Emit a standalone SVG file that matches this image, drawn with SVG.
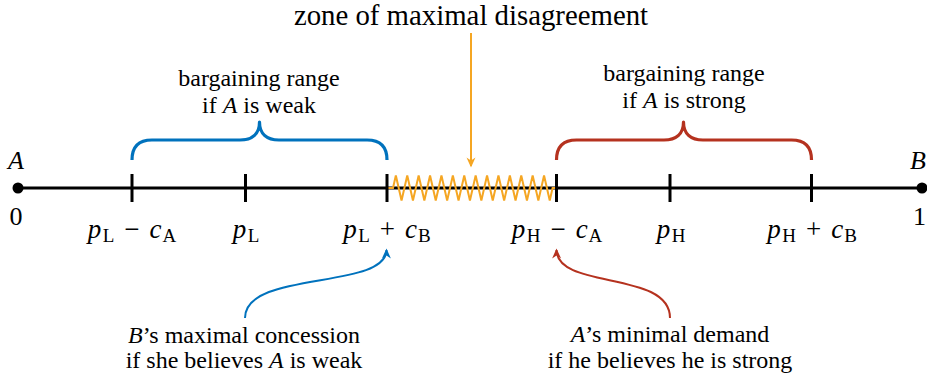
<svg xmlns="http://www.w3.org/2000/svg" width="927" height="379" viewBox="0 0 927 379">
<style>
.txt{font-family:"Liberation Serif","Times New Roman",serif;fill:#000}
.norm{font-size:24px;text-anchor:middle}
.ttl{font-size:28.8px;text-anchor:middle}
.lbl{font-size:27px;text-anchor:middle}
.endlbl{font-size:26px}
.it{font-style:italic}
.sub{font-size:19px;font-style:normal}
.axisline{stroke:#000;stroke-width:3;fill:none}
.tick{stroke:#000;stroke-width:3}
.brace{fill:none;stroke-width:3.2;stroke-linejoin:round}
.cblue{stroke:#0072BD}
.cred{stroke:#B5321F}
.corange{stroke:#F5A623}
.conn{fill:none;stroke-width:2}
</style>
<defs>
<marker id="ah-o" viewBox="-12 -6 14 12" refX="-1.5" refY="0" markerWidth="14" markerHeight="12" markerUnits="userSpaceOnUse" orient="auto"><path d="M-10,-4.5 L0,0 L-10,4.5 L-7,0 Z" fill="#F5A623"/></marker>
<marker id="ah-b" viewBox="-12 -6 14 12" refX="-1.5" refY="0" markerWidth="14" markerHeight="12" markerUnits="userSpaceOnUse" orient="auto"><path d="M-10,-4.5 L0,0 L-10,4.5 L-7,0 Z" fill="#0072BD"/></marker>
<marker id="ah-r" viewBox="-12 -6 14 12" refX="-1.5" refY="0" markerWidth="14" markerHeight="12" markerUnits="userSpaceOnUse" orient="auto"><path d="M-10,-4.5 L0,0 L-10,4.5 L-7,0 Z" fill="#B5321F"/></marker>
</defs>

<g id="axis">
<line class="axisline" x1="18" y1="188" x2="922" y2="188"/>
<circle cx="18" cy="188" r="5.5" fill="#000"/>
<circle cx="922" cy="188" r="5.5" fill="#000"/>
<text class="txt endlbl it" text-anchor="middle" x="16" y="169">A</text>
<text class="txt endlbl" text-anchor="middle" x="16" y="225">0</text>
<text class="txt endlbl it" text-anchor="end" x="926" y="169">B</text>
<text class="txt endlbl" text-anchor="end" x="926" y="225">1</text>
</g>

<g id="zone">
<polyline class="corange" fill="none" stroke-width="2" points="388,188 393,188 395.85,175.5 401.55,200.5 407.25,175.5 412.95,200.5 418.65,175.5 424.35,200.5 430.05,175.5 435.75,200.5 441.45,175.5 447.15,200.5 452.85,175.5 458.55,200.5 464.25,175.5 469.95,200.5 475.65,175.5 481.35,200.5 487.05,175.5 492.75,200.5 498.45,175.5 504.15,200.5 509.85,175.5 515.55,200.5 521.25,175.5 526.95,200.5 532.65,175.5 538.35,200.5 544.05,175.5 549.75,200.5 552.6,188 556,188"/>
<text class="txt ttl" x="471" y="25">zone of maximal disagreement</text>
</g>

<g id="ticks">
<line class="tick" x1="132" y1="174" x2="132" y2="202"/>
<line class="tick" x1="245.5" y1="174" x2="245.5" y2="202"/>
<line class="tick" x1="387" y1="174" x2="387" y2="202"/>
<line class="tick" x1="556.5" y1="174" x2="556.5" y2="202"/>
<line class="tick" x1="670" y1="174" x2="670" y2="202"/>
<line class="tick" x1="811.5" y1="174" x2="811.5" y2="202"/>
</g>

<g id="tick-labels">
<text class="txt lbl" x="132" y="238"><tspan class="it">p</tspan><tspan class="sub" dx="1.5" dy="4">L</tspan><tspan dx="10" dy="-4">−</tspan><tspan class="it" dx="10">c</tspan><tspan class="sub" dx="1" dy="4">A</tspan></text>
<text class="txt lbl" x="246" y="238"><tspan class="it">p</tspan><tspan class="sub" dx="1.5" dy="4">L</tspan></text>
<text class="txt lbl" x="387" y="238"><tspan class="it">p</tspan><tspan class="sub" dx="1.5" dy="4">L</tspan><tspan dx="10" dy="-4">+</tspan><tspan class="it" dx="10">c</tspan><tspan class="sub" dx="1" dy="4">B</tspan></text>
<text class="txt lbl" x="557" y="238"><tspan class="it">p</tspan><tspan class="sub" dx="1.5" dy="4">H</tspan><tspan dx="10" dy="-4">−</tspan><tspan class="it" dx="10">c</tspan><tspan class="sub" dx="1" dy="4">A</tspan></text>
<text class="txt lbl" x="671" y="238"><tspan class="it">p</tspan><tspan class="sub" dx="1.5" dy="4">H</tspan></text>
<text class="txt lbl" x="812" y="238"><tspan class="it">p</tspan><tspan class="sub" dx="1.5" dy="4">H</tspan><tspan dx="10" dy="-4">+</tspan><tspan class="it" dx="10">c</tspan><tspan class="sub" dx="1" dy="4">B</tspan></text>
</g>

<g id="range-weak">
<path class="brace cblue" d="M132,160 C132,147 138,140 152,140 L240,140 C252,140 259.5,134 259.5,122 C259.5,134 267,140 279,140 L367,140 C381,140 387,147 387,160"/>
<text class="txt norm" x="259" y="86">bargaining range</text>
<text class="txt norm" x="259" y="113">if <tspan class="it">A</tspan> is weak</text>
</g>

<g id="range-strong">
<path class="brace cred" d="M556.5,160 C556.5,147 562.5,140 576.5,140 L664,140 C676,140 683.5,134 683.5,122 C683.5,134 691,140 703,140 L791.5,140 C805.5,140 811.5,147 811.5,160"/>
<text class="txt norm" x="684" y="81">bargaining range</text>
<text class="txt norm" x="684" y="108">if <tspan class="it">A</tspan> is strong</text>
</g>

<g id="concession">
<text class="txt norm" x="244" y="343"><tspan class="it">B</tspan>’s maximal concession</text>
<text class="txt norm" x="244" y="368">if she believes <tspan class="it">A</tspan> is weak</text>
</g>

<g id="demand">
<text class="txt norm" x="670" y="342"><tspan class="it">A</tspan>’s minimal demand</text>
<text class="txt norm" x="670" y="368">if he believes he is strong</text>
</g>

<g id="connectors">
<path class="conn corange" d="M471,33 L471,166" marker-end="url(#ah-o)"/>
<path class="conn cblue" d="M245,318 C245,270 386,290 386.5,250" marker-end="url(#ah-b)"/>
<path class="conn cred" d="M670,318 C670,270 557,290 556.5,250" marker-end="url(#ah-r)"/>
</g>
</svg>
